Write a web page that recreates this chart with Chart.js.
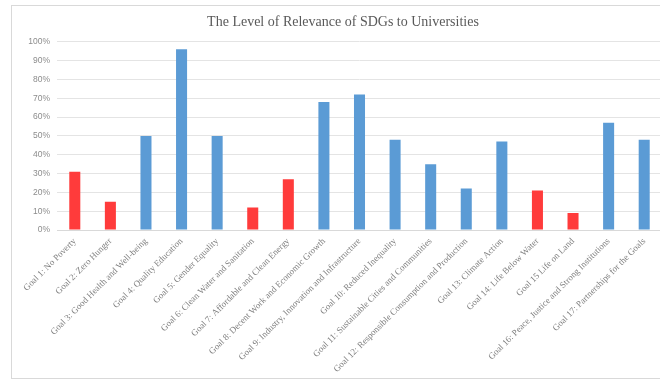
<!DOCTYPE html>
<html>
<head>
<meta charset="utf-8">
<title>SDG relevance</title>
<script src="https://cdn.jsdelivr.net/npm/chart.js@4/dist/chart.umd.min.js"></script>
<style>
  html, body { margin: 0; padding: 0; background: #fff; overflow: hidden; }
  #wrap { position: relative; width: 660px; height: 380px; overflow: hidden; }
  #frame {
    position: absolute; left: 11px; top: 5px; width: 700px; height: 372px;
    border: 1px solid #d9d9d9; pointer-events: none;
  }
  #chart { position: absolute; left: 0; top: 0; }
</style>
</head>
<body>
<div id="wrap">
  <canvas id="chart" width="680" height="380"></canvas>
  <div id="frame"></div>
</div>
<script>
const goals = [
  'Goal 1: No Poverty',
  'Goal 2: Zero Hunger',
  'Goal 3: Good Health and Well-being',
  'Goal 4: Quality Education',
  'Goal 5: Gender Equality',
  'Goal 6: Clean Water and Sanitation',
  'Goal 7: Affordable and Clean Energy',
  'Goal 8: Decent Work and Economic Growth',
  'Goal 9: Industry, Innovation and Infrastructure',
  'Goal 10: Reduced Inequality',
  'Goal 11: Sustainable Cities and Communities',
  'Goal 12: Responsible Consumption and Production',
  'Goal 13: Climate Action',
  'Goal 14: Life Below Water',
  'Goal 15 Life on Land',
  'Goal 16: Peace, Justice and Strong Institutions',
  'Goal 17: Partnerships for the Goals'
];
const relevance = [31, 15, 50, 96, 50, 12, 27, 68, 72, 48, 35, 22, 47, 21, 9, 57, 48];
// goals shown in red
const flaggedGoals = [1, 2, 6, 7, 14, 15];

const BLUE = '#5b9bd5';
const RED = '#ff3b3b';
const barColors = goals.map((g, i) => flaggedGoals.includes(i + 1) ? RED : BLUE);

new Chart(document.getElementById('chart'), {
  type: 'bar',
  data: {
    labels: goals,
    datasets: [{
      data: relevance,
      backgroundColor: barColors,
      borderWidth: 0,
      categoryPercentage: 1,
      barPercentage: 0.31
    }]
  },
  options: {
    responsive: false,
    animation: false,
    layout: { padding: { left: 24, right: 18, top: 0, bottom: 0 } },
    plugins: {
      legend: { display: false },
      tooltip: { enabled: false },
      title: {
        display: true,
        text: 'The Level of Relevance of SDGs to Universities',
        color: '#595959',
        font: { family: '"Liberation Serif", serif', size: 14, weight: 'normal' },
        padding: { top: 14, bottom: 11 }
      }
    },
    scales: {
      x: {
        grid: { display: false, drawTicks: false },
        border: { color: '#d9d9d9' },
        ticks: {
          autoSkip: false,
          maxRotation: 45,
          minRotation: 45,
          padding: 6,
          color: '#7f7f7f',
          font: { family: '"Liberation Serif", serif', size: 9 }
        },
        afterFit: s => { s.height = 150; }
      },
      y: {
        min: 0,
        max: 100,
        grid: { color: '#e4e4e4', drawTicks: false },
        border: { display: false },
        ticks: {
          stepSize: 10,
          padding: 7,
          color: '#8c8c8c',
          font: { family: '"Liberation Sans", Arial, sans-serif', size: 8.5 },
          callback: v => v + '%'
        },
        afterFit: s => { s.width = 33; }
      }
    }
  }
});
</script>
</body>
</html>
